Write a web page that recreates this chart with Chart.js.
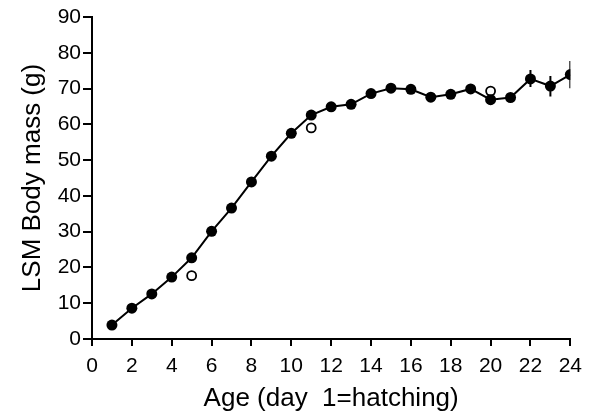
<!DOCTYPE html>
<html>
<head>
<meta charset="utf-8">
<script src="https://cdn.jsdelivr.net/npm/chart.js@4"></script>
<style>
  html, body { margin: 0; padding: 0; background: #fff; }
  #wrap { width: 590px; height: 414px; }
</style>
</head>
<body>
<div id="wrap"><canvas id="myChart" width="590" height="414"></canvas></div>
<script>
// body mass by age
const days = [1, 2, 3, 4, 5, 6, 7, 8, 9, 10, 11, 12, 13, 14, 15, 16, 17, 18, 19, 20, 21, 22, 23, 24];
const mass = [3.9, 8.6, 12.6, 17.3, 22.7, 30.1, 36.6, 43.9, 51.1, 57.5, 62.6, 64.9, 65.6, 68.6, 70.1, 69.8, 67.6, 68.4, 69.9, 66.9, 67.5, 72.7, 70.7, 73.9];

// open circles
const openDays = [5, 11, 20];
const openMass = [17.7, 59.0, 69.3];

// error bars on the last days
const errDays = [22, 23, 24];
const errLow = [70.4, 67.8, 70.1];
const errHigh = [75.2, 73.5, 77.7];

const xTicks = [0, 2, 4, 6, 8, 10, 12, 14, 16, 18, 20, 22, 24];
const yTicks = [0, 10, 20, 30, 40, 50, 60, 70, 80, 90];

let tickFont = { family: "'Liberation Sans Narrow', 'Liberation Sans', Arial, sans-serif", size: 21 };
let titleFont = { family: "'Liberation Sans', Arial, sans-serif", size: 26 };

let errSets = errDays.map((d, i) => ({
    type: 'line',
    data: [{ x: d, y: errLow[i] }, { x: d, y: errHigh[i] }],
    borderColor: '#000',
    borderWidth: 2,
    pointRadius: 0,
    order: 3
}));

let ctx = document.getElementById('myChart');
Chart.defaults.color = '#000';

new Chart(ctx, {
    type: 'line',
    data: {
        datasets: [
            {
                data: days.map((d, i) => ({ x: d, y: mass[i] })),
                borderColor: '#000',
                backgroundColor: '#000',
                borderWidth: 2,
                pointRadius: 5.5,
                pointBorderWidth: 0,
                tension: 0,
                order: 1
            },
            {
                data: openDays.map((d, i) => ({ x: d, y: openMass[i] })),
                showLine: false,
                borderColor: '#000',
                backgroundColor: '#fff',
                pointRadius: 4.5,
                pointBorderWidth: 1.8,
                order: 2
            },
            ...errSets
        ]
    },
    options: {
        responsive: false,
        animation: false,
        layout: { padding: { top: 17, right: 16, left: 0, bottom: 0 } },
        plugins: { legend: { display: false }, tooltip: { enabled: false } },
        scales: {
            x: {
                type: 'linear',
                min: 0,
                max: 24,
                afterBuildTicks: s => { s.ticks = xTicks.map(v => ({ value: v })); },
                afterFit: s => { s.height = 75; },
                grid: { drawOnChartArea: false, tickLength: 7, color: '#000', lineWidth: 2 },
                border: { color: '#000', width: 2 },
                ticks: { font: tickFont, color: '#000', padding: 8, maxRotation: 0 },
                title: { display: true, text: 'Age (day  1=hatching)', font: titleFont, padding: { top: 0, bottom: 0 } }
            },
            y: {
                min: 0,
                max: 90,
                afterBuildTicks: s => { s.ticks = yTicks.map(v => ({ value: v })); },
                afterFit: s => { s.width = 92; },
                grid: { drawOnChartArea: false, tickLength: 9, color: '#000', lineWidth: 2 },
                border: { color: '#000', width: 2 },
                ticks: { font: tickFont, color: '#000', padding: 2 },
                title: { display: true, text: 'LSM Body mass (g)', font: titleFont, padding: { top: 17, bottom: 0 } }
            }
        }
    }
});
</script>
</body>
</html>
